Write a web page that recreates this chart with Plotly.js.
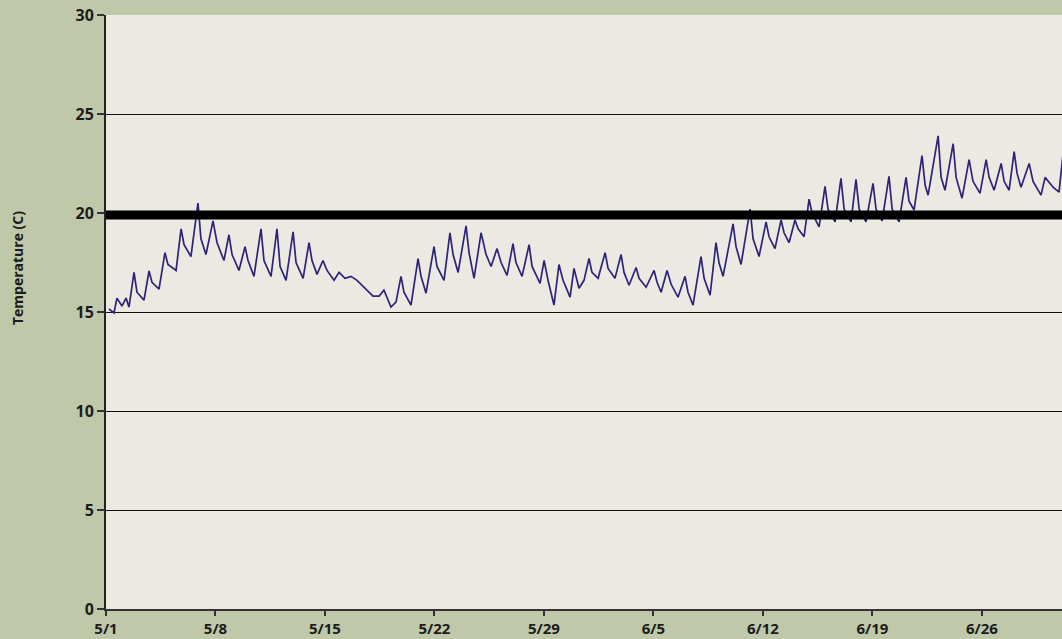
<!DOCTYPE html>
<html>
<head>
<meta charset="utf-8">
<script src="https://cdn.plot.ly/plotly-3.0.1.min.js"></script>
<style>html,body{margin:0;padding:0;background:#BFC9AA;}#chart{width:1062px;height:639px;}</style>
</head>
<body>
<div id="chart"></div>
<script>
// Time in days since 5/1 00:00
const dayOffsets = [
0.19,0.51,0.70,1.02,1.28,1.47,1.79,1.98,2.43,2.75,2.94,3.39,3.77,3.96,4.48,4.80,4.99,5.43,5.88,6.07,
6.39,6.84,7.10,7.54,7.86,8.06,8.50,8.89,9.08,9.46,9.91,10.10,10.55,10.93,11.13,11.51,11.96,12.15,12.60,12.98,
13.17,13.49,13.87,14.13,14.58,14.90,15.28,15.66,16.05,16.43,16.75,17.07,17.46,17.77,18.22,18.54,18.86,19.05,19.50,19.95,
20.14,20.46,20.97,21.16,21.61,21.99,22.19,22.51,23.02,23.21,23.53,23.98,24.30,24.62,25.00,25.26,25.64,26.02,26.21,26.60,
27.05,27.24,27.75,28.01,28.26,28.64,28.96,29.22,29.67,29.92,30.24,30.56,30.88,31.07,31.46,31.91,32.10,32.54,32.93,33.12,
33.44,33.89,34.08,34.53,35.04,35.23,35.49,35.87,36.13,36.57,37.02,37.21,37.53,38.04,38.24,38.62,39.00,39.19,39.45,40.09,
40.28,40.60,41.18,41.37,41.75,42.20,42.39,42.77,43.16,43.35,43.67,44.05,44.25,44.63,44.95,45.14,45.59,45.97,46.16,46.61,
46.99,47.19,47.63,47.95,48.15,48.59,49.04,49.23,49.62,50.06,50.26,50.70,51.15,51.34,51.66,52.17,52.37,52.56,53.20,53.39,
53.64,54.16,54.35,54.73,55.18,55.43,55.88,56.27,56.46,56.78,57.23,57.42,57.74,58.06,58.25,58.50,59.02,59.27,59.78,60.04,
60.55,60.93,61.19
];
const temperatures = [
15.15,14.95,15.7,15.3,15.7,15.25,17.0,16.0,15.6,17.07,16.5,16.15,18.0,17.4,17.1,19.2,18.4,17.8,20.5,18.7,
17.9,19.6,18.5,17.6,18.9,17.9,17.1,18.3,17.6,16.8,19.2,17.6,16.8,19.2,17.3,16.6,19.05,17.5,16.7,18.5,
17.6,16.9,17.6,17.1,16.6,17.0,16.7,16.8,16.6,16.3,16.1,15.8,15.8,16.1,15.25,15.5,16.8,16.0,15.35,17.7,
16.8,15.95,18.3,17.3,16.6,19.0,17.9,17.0,19.35,18.0,16.7,19.0,17.9,17.3,18.2,17.5,16.85,18.45,17.5,16.8,
18.4,17.3,16.45,17.6,16.6,15.35,17.4,16.6,15.75,17.2,16.2,16.6,17.7,17.0,16.7,18.0,17.2,16.7,17.9,17.0,
16.35,17.25,16.7,16.25,17.1,16.5,16.0,17.1,16.4,15.75,16.8,16.0,15.35,17.8,16.7,15.85,18.5,17.5,16.8,19.45,
18.3,17.4,20.2,18.7,17.8,19.55,18.8,18.2,19.65,19.0,18.5,19.65,19.2,18.8,20.7,20.0,19.3,21.35,20.2,19.55,
21.75,20.2,19.55,21.7,20.2,19.55,21.5,20.2,19.6,21.85,20.2,19.55,21.8,20.6,20.15,22.9,21.4,20.9,23.9,21.8,
21.15,23.5,21.8,20.75,22.7,21.6,21.0,22.7,21.8,21.15,22.5,21.6,21.15,23.1,22.0,21.3,22.5,21.6,20.9,21.8,
21.3,21.05,23.0
];
const thresholdTemp = 19.9;
const yTickVals = [0,5,10,15,20,25,30];
const xTickDays = [0,7,14,21,28,35,42,49,56];
const xTickLabels = ['5/1','5/8','5/15','5/22','5/29','6/5','6/12','6/19','6/26'];

const start = Date.UTC(2010,4,1);
const toDate = d => new Date(start + d*86400000).toISOString().replace('Z','');
const xDates = dayOffsets.map(toDate);

const trace = {
  x: xDates, y: temperatures, type: 'scatter', mode: 'lines',
  line: {color: '#2C2476', width: 1.7}, hoverinfo: 'skip', showlegend: false
};

const layout = {
  width: 1062, height: 639,
  margin: {l: 106, r: 0, t: 15, b: 30, pad: 0},
  paper_bgcolor: '#BFC9AA',
  plot_bgcolor: '#ECE9E3',
  showlegend: false,
  font: {family: '"Open Sans", "Noto Sans", sans-serif', color: '#1c1c1c'},
  xaxis: {
    type: 'date',
    range: [toDate(0), toDate(61.12)],
    tickvals: xTickDays.map(toDate),
    ticktext: xTickLabels,
    ticks: 'outside', ticklen: 5, tickwidth: 2, tickcolor: '#333',
    showgrid: false, zeroline: false,
    showline: true, linecolor: '#333', linewidth: 2,
    tickfont: {size: 15, family: '"Open Sans", sans-serif', weight: 'bold', color: '#1c1c1c'},
    fixedrange: true
  },
  yaxis: {
    range: [0, 30],
    tickvals: yTickVals,
    ticks: 'outside', ticklen: 7, tickwidth: 1.5, tickcolor: '#333',
    showgrid: true, gridcolor: '#111', gridwidth: 1,
    zeroline: false,
    showline: true, linecolor: '#222', linewidth: 2,
    tickfont: {size: 16, family: '"Open Sans", sans-serif', weight: 'bold', color: '#1c1c1c'},
    fixedrange: true
  },
  shapes: [{
    type: 'line', xref: 'paper', x0: 0, x1: 1, yref: 'y', y0: thresholdTemp, y1: thresholdTemp,
    line: {color: '#000', width: 9}, layer: 'above'
  }],
  annotations: [{
    text: 'Temperature (C)', xref: 'paper', yref: 'paper',
    x: (17-106)/956, y: 0.574, xanchor: 'center', yanchor: 'middle',
    textangle: -90, showarrow: false,
    font: {size: 14, family: '"Open Sans", sans-serif', weight: 'bold', color: '#1c1c1c'}
  }]
};

Plotly.newPlot('chart', [trace], layout, {displayModeBar: false, staticPlot: true});
</script>
</body>
</html>
